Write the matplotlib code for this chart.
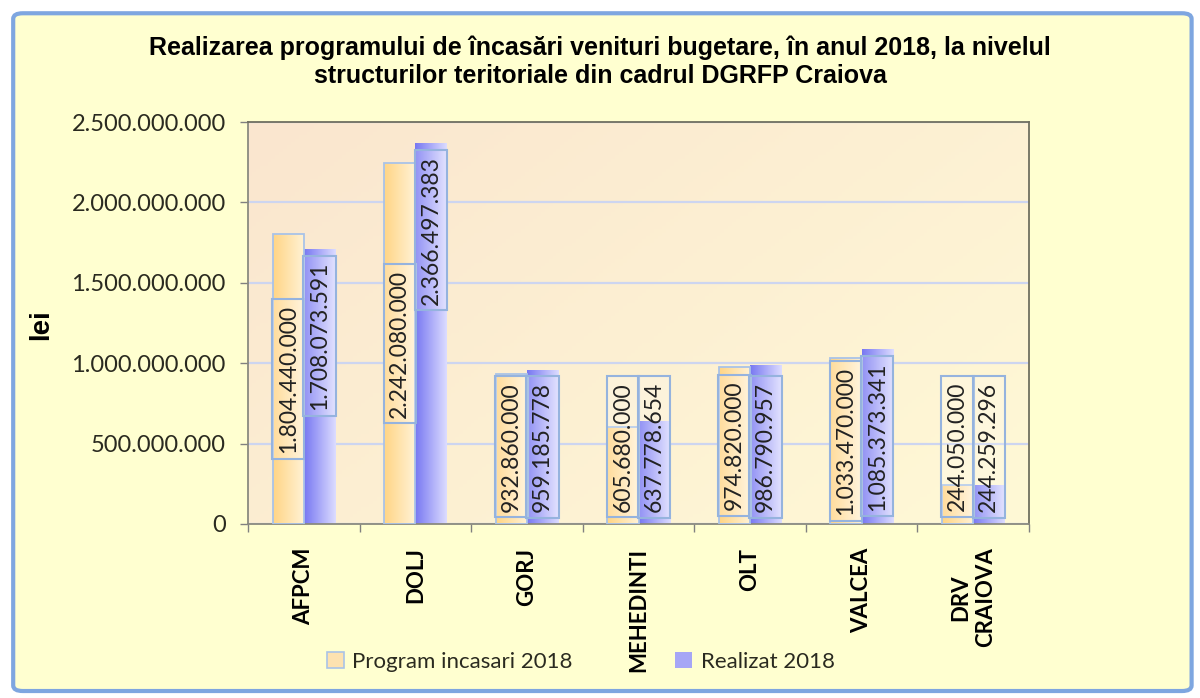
import numpy as np
import matplotlib

matplotlib.use("Agg")
import matplotlib.pyplot as plt  # noqa: E402
from matplotlib.colors import LinearSegmentedColormap, to_rgb  # noqa: E402
from matplotlib.patches import FancyBboxPatch, Patch  # noqa: E402

# --- data -------------------------------------------------------------------
categories = ["AFPCM", "DOLJ", "GORJ", "MEHEDINTI", "OLT", "VALCEA", "DRV\nCRAIOVA"]
program_2018 = [1804440000, 2242080000, 932860000, 605680000,
                974820000, 1033470000, 244050000]
realizat_2018 = [1708073591, 2366497383, 959185778, 637778654,
                 986790957, 1085373341, 244259296]
series_names = ["Program incasari 2018", "Realizat 2018"]
y_ticks = [0, 500000000, 1000000000, 1500000000, 2000000000, 2500000000]

title = ("Realizarea programului de încasări venituri bugetare, în anul 2018, la nivelul\n"
         "structurilor teritoriale din cadrul DGRFP Craiova")

BODY_FONT = ["Lato", "DejaVu Sans"]
TITLE_FONT = ["Liberation Sans", "DejaVu Sans"]

orange_cmap = LinearSegmentedColormap.from_list("orange", ["#FFD585", "#FFF2D6"])
blue_cmap = LinearSegmentedColormap.from_list("blue", ["#7878F2", "#DCDCFF"])


def fmt(v):
    return f"{v:,}".replace(",", ".")


fig = plt.figure(figsize=(12, 6.98), dpi=100, facecolor="white")

# chart frame
frame = FancyBboxPatch((0.011, 0.010), 0.982, 0.971,
                       boxstyle="round,pad=0,rounding_size=0.008",
                       transform=fig.transFigure, facecolor="#FFFFD0",
                       edgecolor="#7EA6E0", linewidth=3, zorder=-10)
fig.patches.append(frame)

ax = fig.add_axes([0.2067, 0.2493, 0.6508, 0.5759])
ax.set_zorder(1)
ax.set_facecolor("none")

# plot-area gradient
c0 = np.array(to_rgb("#FAE6CF"))
c1 = np.array(to_rgb("#FFF9D6"))
gx, gy = np.meshgrid(np.linspace(0, 1, 200), np.linspace(0, 1, 120))
t = np.clip(0.6 * gx + 0.4 * gy, 0, 1)[..., None]
ax.imshow(c0 * (1 - t) + c1 * t, extent=[0, 1, 0, 1], transform=ax.transAxes,
          aspect="auto", zorder=0)

x = np.arange(len(categories))
w = 0.28
bars_p = ax.bar(x - w / 2, program_2018, w, facecolor="none",
                edgecolor="#A9C3E8", linewidth=1.3, zorder=3)
bars_r = ax.bar(x + w / 2, realizat_2018, w, facecolor="none",
                edgecolor="none", linewidth=0, zorder=3)

grad = np.linspace(0, 1, 64).reshape(1, -1)
for bars, cmap in ((bars_p, orange_cmap), (bars_r, blue_cmap)):
    for patch in bars:
        x0, y0 = patch.get_x(), patch.get_y()
        img = ax.imshow(grad, cmap=cmap, aspect="auto", zorder=2,
                        extent=[x0, x0 + patch.get_width(), y0, y0 + patch.get_height()])
        img.set_clip_path(patch)

# data labels
half_label = 0.48e9
box = dict(boxstyle="square,pad=0.25", facecolor=(1, 1, 1, 0.2),
           edgecolor="#95B3DE", linewidth=1.5)
for xi, v in zip(x, program_2018):
    yc = max(v / 2, half_label)
    ax.text(xi - w / 2, yc, fmt(v), rotation=90, ha="center", va="center",
            fontsize=16.5, family=BODY_FONT, color="#222222", bbox=box, zorder=5)
for xi, v in zip(x, realizat_2018):
    yc = max(v - 0.54e9, half_label)
    ax.text(xi + w / 2, yc, fmt(v), rotation=90, ha="center", va="center",
            fontsize=16.5, family=BODY_FONT, color="#222222", bbox=box, zorder=5)

ax.set_xlim(-0.5, len(categories) - 0.5)
ax.set_ylim(0, 2500000000)

ax.set_yticks(y_ticks)
ax.set_yticklabels([fmt(v) for v in y_ticks], family=BODY_FONT, fontsize=17,
                   color="#2A2A20")
ax.tick_params(axis="y", length=6, width=1, color="#808080", pad=10)

ax.set_xticks(x)
ax.set_xticklabels(categories, rotation=90, fontsize=16, fontweight="bold",
                   family=BODY_FONT, va="top", ha="center",
                   multialignment="center")
ax.tick_params(axis="x", which="major", length=0, pad=17)
ax.set_xticks(np.arange(-0.5, len(categories)), minor=True)
ax.tick_params(axis="x", which="minor", length=6, width=1, color="#808080")

ax.grid(axis="y", color="#CDD5F0", linewidth=1.6, zorder=1)
ax.set_axisbelow(True)
for side, sp in ax.spines.items():
    sp.set_color("#707060" if side in ("top", "right") else "#8A8A80")
    sp.set_linewidth(1.3)

fig.text(0.5, 1 - 61.5 / 698, title, ha="center", va="center", fontsize=18,
         fontweight="bold", family=TITLE_FONT, linespacing=1.2)
fig.text(41 / 1200, 1 - 325 / 698, "lei", rotation=90, ha="center", va="center",
         fontsize=20, fontweight="bold", family=TITLE_FONT)

handles = [Patch(facecolor="#FDE2B0", edgecolor="#A9C3E8", linewidth=1.2),
           Patch(facecolor="#A6A6F6", edgecolor="none")]
leg = fig.legend(handles, series_names, loc="center",
                 bbox_to_anchor=(0.484, 1 - 662 / 698), ncol=2, frameon=False,
                 handlelength=0.75, handleheight=0.75, handletextpad=0.4,
                 columnspacing=4.6, prop={"family": BODY_FONT, "size": 16})
for txt in leg.get_texts():
    txt.set_color("#2A2A20")

fig.savefig("out.png", dpi=100, facecolor="white")
